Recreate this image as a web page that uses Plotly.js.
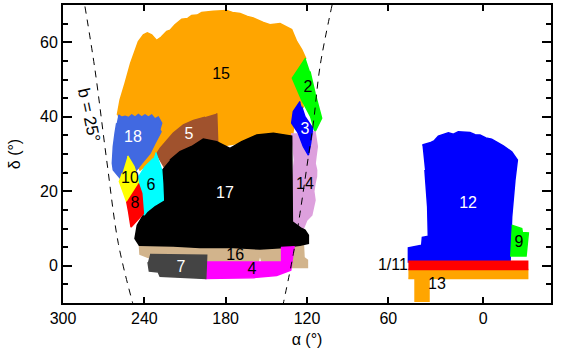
<!DOCTYPE html>
<html>
<head>
<meta charset="utf-8">
<script src="https://cdn.plot.ly/plotly-3.0.1.min.js"></script>
<style>
    html, body { margin: 0; padding: 0; background: #fff; }
</style>
</head>
<body>
<div id="chart" style="width:573px;height:348px"></div>
<script>
// Region outlines, alpha / delta in degrees.
// The axis is broken between 60 and 0: the "0" tick sits at -10 on the drawn scale,
// so the right hand block uses the same drawn scale.
const alpha15 = [259.9,257.9,254.2,250.1,244.4,240.7,237.8,234.6,230.9,227.5,223.5,221,217.4,212.4,208,205.1,201,197.7,189.1,179.2,175,169.4,164,159.6,152.2,147.3,139.9,135,131.3,127.6,123.9,121.0,130.1,123.9,122.7,128.8,130.8,154.7,184.2,230.9,243.2,253];
const delta15 = [40.5,44.5,49.0,54.4,60.2,62.0,62.5,62.0,60.5,61.4,62.9,63.2,64.7,66.2,66.4,67.2,67.3,68.0,68.3,68.5,68.0,67.7,66.9,66.5,65.3,64.7,65.0,64.1,63.4,60.2,58.0,55.7,50.4,44.5,42.7,40.0,34.7,33.8,32.0,29.3,25.7,32];
const alpha2 = [121.0,130.8,123.9,117.3,114.1,109.2,114.1,117.8];
const delta2 = [55.7,50.4,44.5,40.0,36.0,39.6,46.3,52.2];
const alpha14 = [131.3,130.1,129.3,130.8,131.3,130.1,130.8,126.4,122.7,120.2,116.5,114.1,115,114.1,113,112.9,114,113.4,112.4,114.1,124];
const delta14 = [35.6,31.1,28.4,23.0,19.4,15.4,11.8,10.4,10.0,12.2,13.6,17.6,20,22.1,24,25.7,27.5,29.3,32.0,36.0,35.6];
const alpha3 = [125.1,130.1,131.3,126.4,122.7,119,117.3,115.8,121.5,123.9];
const delta3 = [44.1,41.4,38.3,35.6,32,29.7,32.9,36.9,40,42.7];
const alpha18 = [259.2,256.8,254.2,251.6,249.3,246.8,244.4,242,239.5,237,234.6,232.2,229.7,227.2,228.6,227.7,232.1,235.8,241.9,246.9,256.7,262.9,263.6,262.9,261.6,260.4];
const delta18 = [40.5,39.9,40.1,39.8,40.5,39.9,40.6,39.9,40.5,39.9,40.5,39.4,39.9,38.3,36.6,36.0,32.9,30.2,27.5,25.2,23.0,25.7,27.5,32.0,35.6,38.3];
const alpha5 = [186.6,185.9,194,203.8,216.1,222.3,225.5,230.9,228.4,218.6,211.2,203.8,195.2];
const delta5 = [40.9,33.3,33.8,32,29.3,27.5,26.6,30,31.5,35.6,37.8,39,39.9];
const alpha6 = [231.6,229.7,227.2,226.5,226,232.1,238.3,240.2,241.9,244.9,239.5,233.3];
const delta6 = [30.4,28.4,25.7,22.1,17.6,16.3,14.5,13.6,19.4,23.4,26.6,28.8];
const alpha10 = [252.3,247.6,244.9,244.4,253,258.4,256.2];
const delta10 = [29.5,26.6,23.4,22.1,17.2,22.6,24.8];
const alpha8 = [244.4,241.9,240.7,249.8,251.8,253];
const delta8 = [22.1,19.4,14.0,10.4,14.9,17.2];
const alpha16 = [243.7,243.2,237,194,155.9,154.7,153.4,132.5,131.3,119.7,119.7,122.2,122.7];
const delta16 = [6,3.1,2.2,1.0,1.3,3.1,1.3,1.0,-0.5,-0.5,1.5,2.2,6];
const alpha17 = [221.1,213.7,205.1,196.5,186.6,176.8,168.2,157.1,144.8,131.3,130.8,124,121.5,119,119,125.2,139.9,154.7,174.3,198.9,218.6,237,243.7,246.9,245.2,240.7,232.1,226,226.5,227.2];
const delta17 = [28.4,30.6,32,34,33.3,31.5,33.3,35.1,35.6,34.8,11.8,10,9.6,8.2,6,5.5,4.8,4.5,4.9,4.9,5.3,5.3,5.5,7.3,10.9,13.6,16.3,17.6,22.1,25.7];
const alpha4 = [194.7,138.7,138.7,129.6,132,142.4,159.6,195.2];
const delta4 = [1.0,1.0,4.9,5.1,-1.2,-2.6,-3.2,-3.4];
const alpha7 = [235.8,194,194.7,208.8,228.4,229.7,236.3,237.3];
const delta7 = [3.0,2.8,-3.4,-3.2,-2.8,-1.7,-1.4,1.0];
const alpha12 = [34.9,29.3,26,23.1,15.7,12,8.4,-0.2,-4,-7.6,-12,-16.2,-20,-24.8,-31,-35.2,-33.4,-31,-29.8,45.2,45.2,35.4,34.9,30.5,31,33];
const delta12 = [32.4,33,33.6,34.8,35.7,35.3,36,35.8,35.2,35.1,34.3,34,33.2,32.2,30.6,28.4,23,13.1,1,1,4.8,5.5,7.6,7.9,15.8,25.7];
const alpha9 = [-31,-38.4,-38.9,-43.3,-41.6,-29.8];
const delta9 = [10.9,10,8.9,8.8,2.6,2.6];
const alpha1 = [45.2,-42.8,-42.8,45.2];
const delta1 = [1.2,1.2,-1.0,-1.0];
const alpha11 = [45.2,-42.8,-42.8,30,30,40.3,40.3,45.2];
const delta11 = [-1.0,-1.0,-3.4,-3.4,-9.5,-9.5,-3.4,-3.4];

// b = 25 degree galactic latitude curves
const alphaCutLeft = [283.8,276.4,267.8,259.2,248.6];
const deltaCutLeft = [69.6,52.6,28.4,6,-10];
const alphaCutRight = [101.5,110.4,115.3,119,125.2,130,137.4];
const deltaCutRight = [70,53.5,38.3,29.3,14,3.3,-10];

const labelText = ["15","2","3","18","5","14","6","10","8","17","16","4","7","12","9","1/11","13"];
const labelAlpha = [183.4,119.3,121.5,248.4,207,121.5,235.1,250.6,246.9,180.5,173,160.6,213,1.2,-36.4,56.6,24.1];
const labelDelta = [51.3,47.8,36.5,34.3,35.1,21.7,21.4,23.3,16.5,19.2,2.6,-1.2,-0.7,16.5,6.1,-0.1,-5.2];
const labelColor = ["#000","#000","#fff","#fff","#fff","#000","#000","#000","#000","#fff","#000","#000","#fff","#fff","#000","#000","#000"];

const xTickVals = [300,240,180,120,60,-10];
const xTickText = ["300","240","180","120","60","0"];
const yTickVals = [0,20,40,60];

const FONT = 'Liberation Sans';

function region(x, y, color) {
    return {
        x: x, y: y,
        mode: 'lines',
        type: 'scatter',
        fill: 'toself',
        fillcolor: color,
        line: { color: color, width: 1.5 },
        hoverinfo: 'skip'
    };
}

function cut(x, y) {
    return {
        x: x, y: y,
        mode: 'lines',
        type: 'scatter',
        line: { color: '#000', width: 1, dash: '7px,6px', shape: 'spline' },
        hoverinfo: 'skip'
    };
}

// order matters, later regions sit on top
const traces = [
    region(alpha15, delta15, '#FFA500'),
    region(alpha2, delta2, '#00FF00'),
    region(alpha14, delta14, '#DDA0DD'),
    region(alpha3, delta3, '#0000FF'),
    region(alpha18, delta18, '#4169E1'),
    region(alpha5, delta5, '#A0522D'),
    region(alpha16, delta16, '#D2B48C'),
    region(alpha17, delta17, '#000000'),
    region(alpha6, delta6, '#00FFFF'),
    region(alpha10, delta10, '#FFFF00'),
    region(alpha8, delta8, '#FF0000'),
    region(alpha4, delta4, '#FF00FF'),
    region(alpha7, delta7, '#444444'),
    region(alpha12, delta12, '#0000FF'),
    region(alpha9, delta9, '#00FF00'),
    region(alpha11, delta11, '#FFA500'),
    region(alpha1, delta1, '#FF0000'),
    cut(alphaCutLeft, deltaCutLeft),
    cut(alphaCutRight, deltaCutRight),
    {
        x: labelAlpha, y: labelDelta, text: labelText,
        mode: 'text',
        type: 'scatter',
        textposition: 'middle center',
        textfont: { family: FONT, size: 16, color: labelColor },
        hoverinfo: 'skip'
    }
];

const layout = {
    width: 573,
    height: 348,
    margin: { l: 63, r: 22, t: 5, b: 45 },
    showlegend: false,
    xaxis: {
        range: [300, -60],
        title: { text: 'α (°)', font: { family: FONT, size: 16, color: '#000' } },
        tickfont: { family: FONT, size: 16, color: '#000' },
        tickvals: xTickVals,
        ticktext: xTickText,
        ticks: 'inside',
        ticklen: 6,
        tickwidth: 1.5,
        tickcolor: '#000',
        showgrid: false,
        zeroline: false,
        showline: true,
        linecolor: '#000',
        linewidth: 2,
        mirror: 'ticks'
    },
    yaxis: {
        range: [-10, 70],
        title: { text: 'δ (°)', font: { family: FONT, size: 16, color: '#000' } },
        tickfont: { family: FONT, size: 16, color: '#000' },
        tickvals: yTickVals,
        ticks: 'inside',
        ticklen: 9,
        tickwidth: 1.5,
        tickcolor: '#000',
        minor: { tick0: -10, dtick: 5, ticks: 'inside', ticklen: 5, tickwidth: 1.5, tickcolor: '#000' },
        showgrid: false,
        zeroline: false,
        showline: true,
        linecolor: '#000',
        linewidth: 2,
        mirror: 'ticks'
    },
    annotations: [{
        x: 281, y: 40.3,
        text: 'b = 25°',
        textangle: 78,
        showarrow: false,
        font: { family: FONT, size: 17, color: '#000' }
    }]
};

Plotly.newPlot('chart', traces, layout, { displayModeBar: false });
</script>
</body>
</html>
